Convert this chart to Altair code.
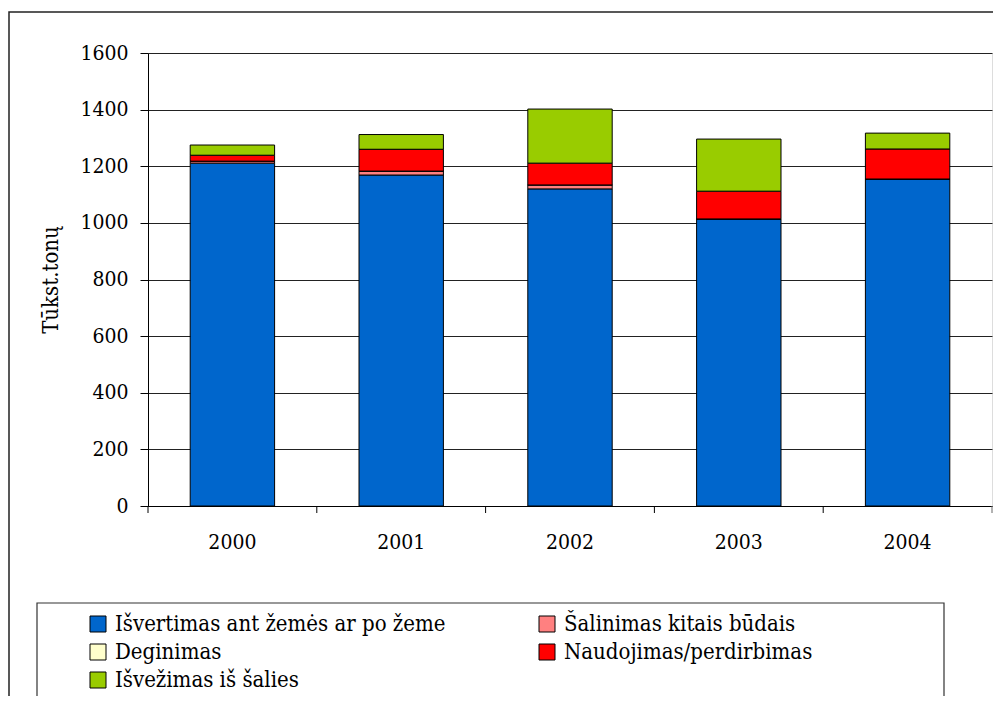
import altair as alt
import pandas as pd

years = ["2000", "2001", "2002", "2003", "2004"]
series = [
    "Išvertimas ant žemės ar po žeme",
    "Šalinimas kitais būdais",
    "Deginimas",
    "Naudojimas/perdirbimas",
    "Išvežimas iš šalies",
]
colors = ["#0066CC", "#FF8080", "#FFFFCC", "#FF0000", "#99CC00"]

isvertimas = [1211, 1169, 1120, 1014, 1155]
salinimas = [7, 14, 14, 0, 0]
deginimas = [0, 0, 0, 0, 0]
naudojimas = [21, 77, 77, 98, 106]
isvezimas = [36, 52, 191, 184, 56]

values = [isvertimas, salinimas, deginimas, naudojimas, isvezimas]
rows = []
for si, (name, vals) in enumerate(zip(series, values)):
    for y, v in zip(years, vals):
        rows.append({"year": y, "series": name, "value": v, "idx": si})
df = pd.DataFrame(rows)

# legend is filled column by column: reorder so it reads row by row
leg_order = [0, 2, 4, 1, 3]
leg_domain = [series[i] for i in leg_order]
leg_range = [colors[i] for i in leg_order]

W, H = 844, 453
FONT = "DejaVu Serif Condensed, DejaVu Serif, serif"

xenc = alt.X("year:N", sort=years, title=None,
             scale=alt.Scale(paddingInner=0.5, paddingOuter=0.25),
             axis=alt.Axis(labelAngle=0, ticks=False, labelPadding=25,
                           labelFont=FONT, labelFontSize=21, labelColor="#000",
                           domainColor="#000"))

bars = alt.Chart(df).mark_bar(stroke="#000", strokeWidth=1).encode(
    x=xenc,
    y=alt.Y("value:Q", stack="zero", title="Tūkst.tonų",
            scale=alt.Scale(domain=[0, 1600], nice=False),
            axis=alt.Axis(values=[0, 200, 400, 600, 800, 1000, 1200, 1400, 1600],
                          format="d",
                          grid=True, gridColor="#222", gridWidth=1,
                          tickSize=8, tickColor="#000", labelPadding=12,
                          labelFont=FONT, labelFontSize=21, labelColor="#000",
                          titleFont=FONT, titleFontSize=22, titleFontWeight="normal",
                          titleColor="#000", titlePadding=17, domainColor="#000")),
    color=alt.Color("series:N",
                    scale=alt.Scale(domain=leg_domain, range=leg_range),
                    legend=alt.Legend(orient="none", legendX=-61, legendY=560,
                                      columns=2, columnPadding=90, rowPadding=6,
                                      title=None, symbolType="square", symbolSize=256,
                                      symbolStrokeColor="#000", symbolStrokeWidth=1,
                                      labelFont=FONT, labelFontSize=22, labelColor="#000",
                                      labelOffset=6, labelLimit=600, padding=0)),
    order=alt.Order("idx:Q", sort="ascending"),
)

one = pd.DataFrame({"a": [0]})
ticks = alt.Chart(pd.DataFrame({"year": years})).mark_rule(color="#000", xOffset=-42.2).encode(
    x=alt.X("year:N", sort=years, bandPosition=0),
    y=alt.value(H), y2=alt.value(H + 7),
)
last_tick = alt.Chart(one).mark_rule(color="#666").encode(
    x=alt.value(W), y=alt.value(H), y2=alt.value(H + 7))

frame = alt.Chart(one).mark_rect(fillOpacity=0, stroke="#222", strokeWidth=1.5).encode(
    x=alt.value(-139), x2=alt.value(W + 60), y=alt.value(-41), y2=alt.value(H + 300))
legbox = alt.Chart(one).mark_rect(fillOpacity=0, stroke="#333", strokeWidth=1.2).encode(
    x=alt.value(-111), x2=alt.value(796), y=alt.value(550), y2=alt.value(648))

chart = alt.layer(frame, legbox, bars, ticks, last_tick).properties(
    width=W, height=H,
    autosize=alt.AutoSizeParams(type="none"),
    padding={"left": 140, "top": 45, "right": 1, "bottom": 190},
).configure_view(fill="#FFCC99", stroke="#444", strokeWidth=1).configure(
    background="#FFFFFF", font=FONT)

chart.save("out.html", embed_options={"renderer": "svg", "actions": False})
